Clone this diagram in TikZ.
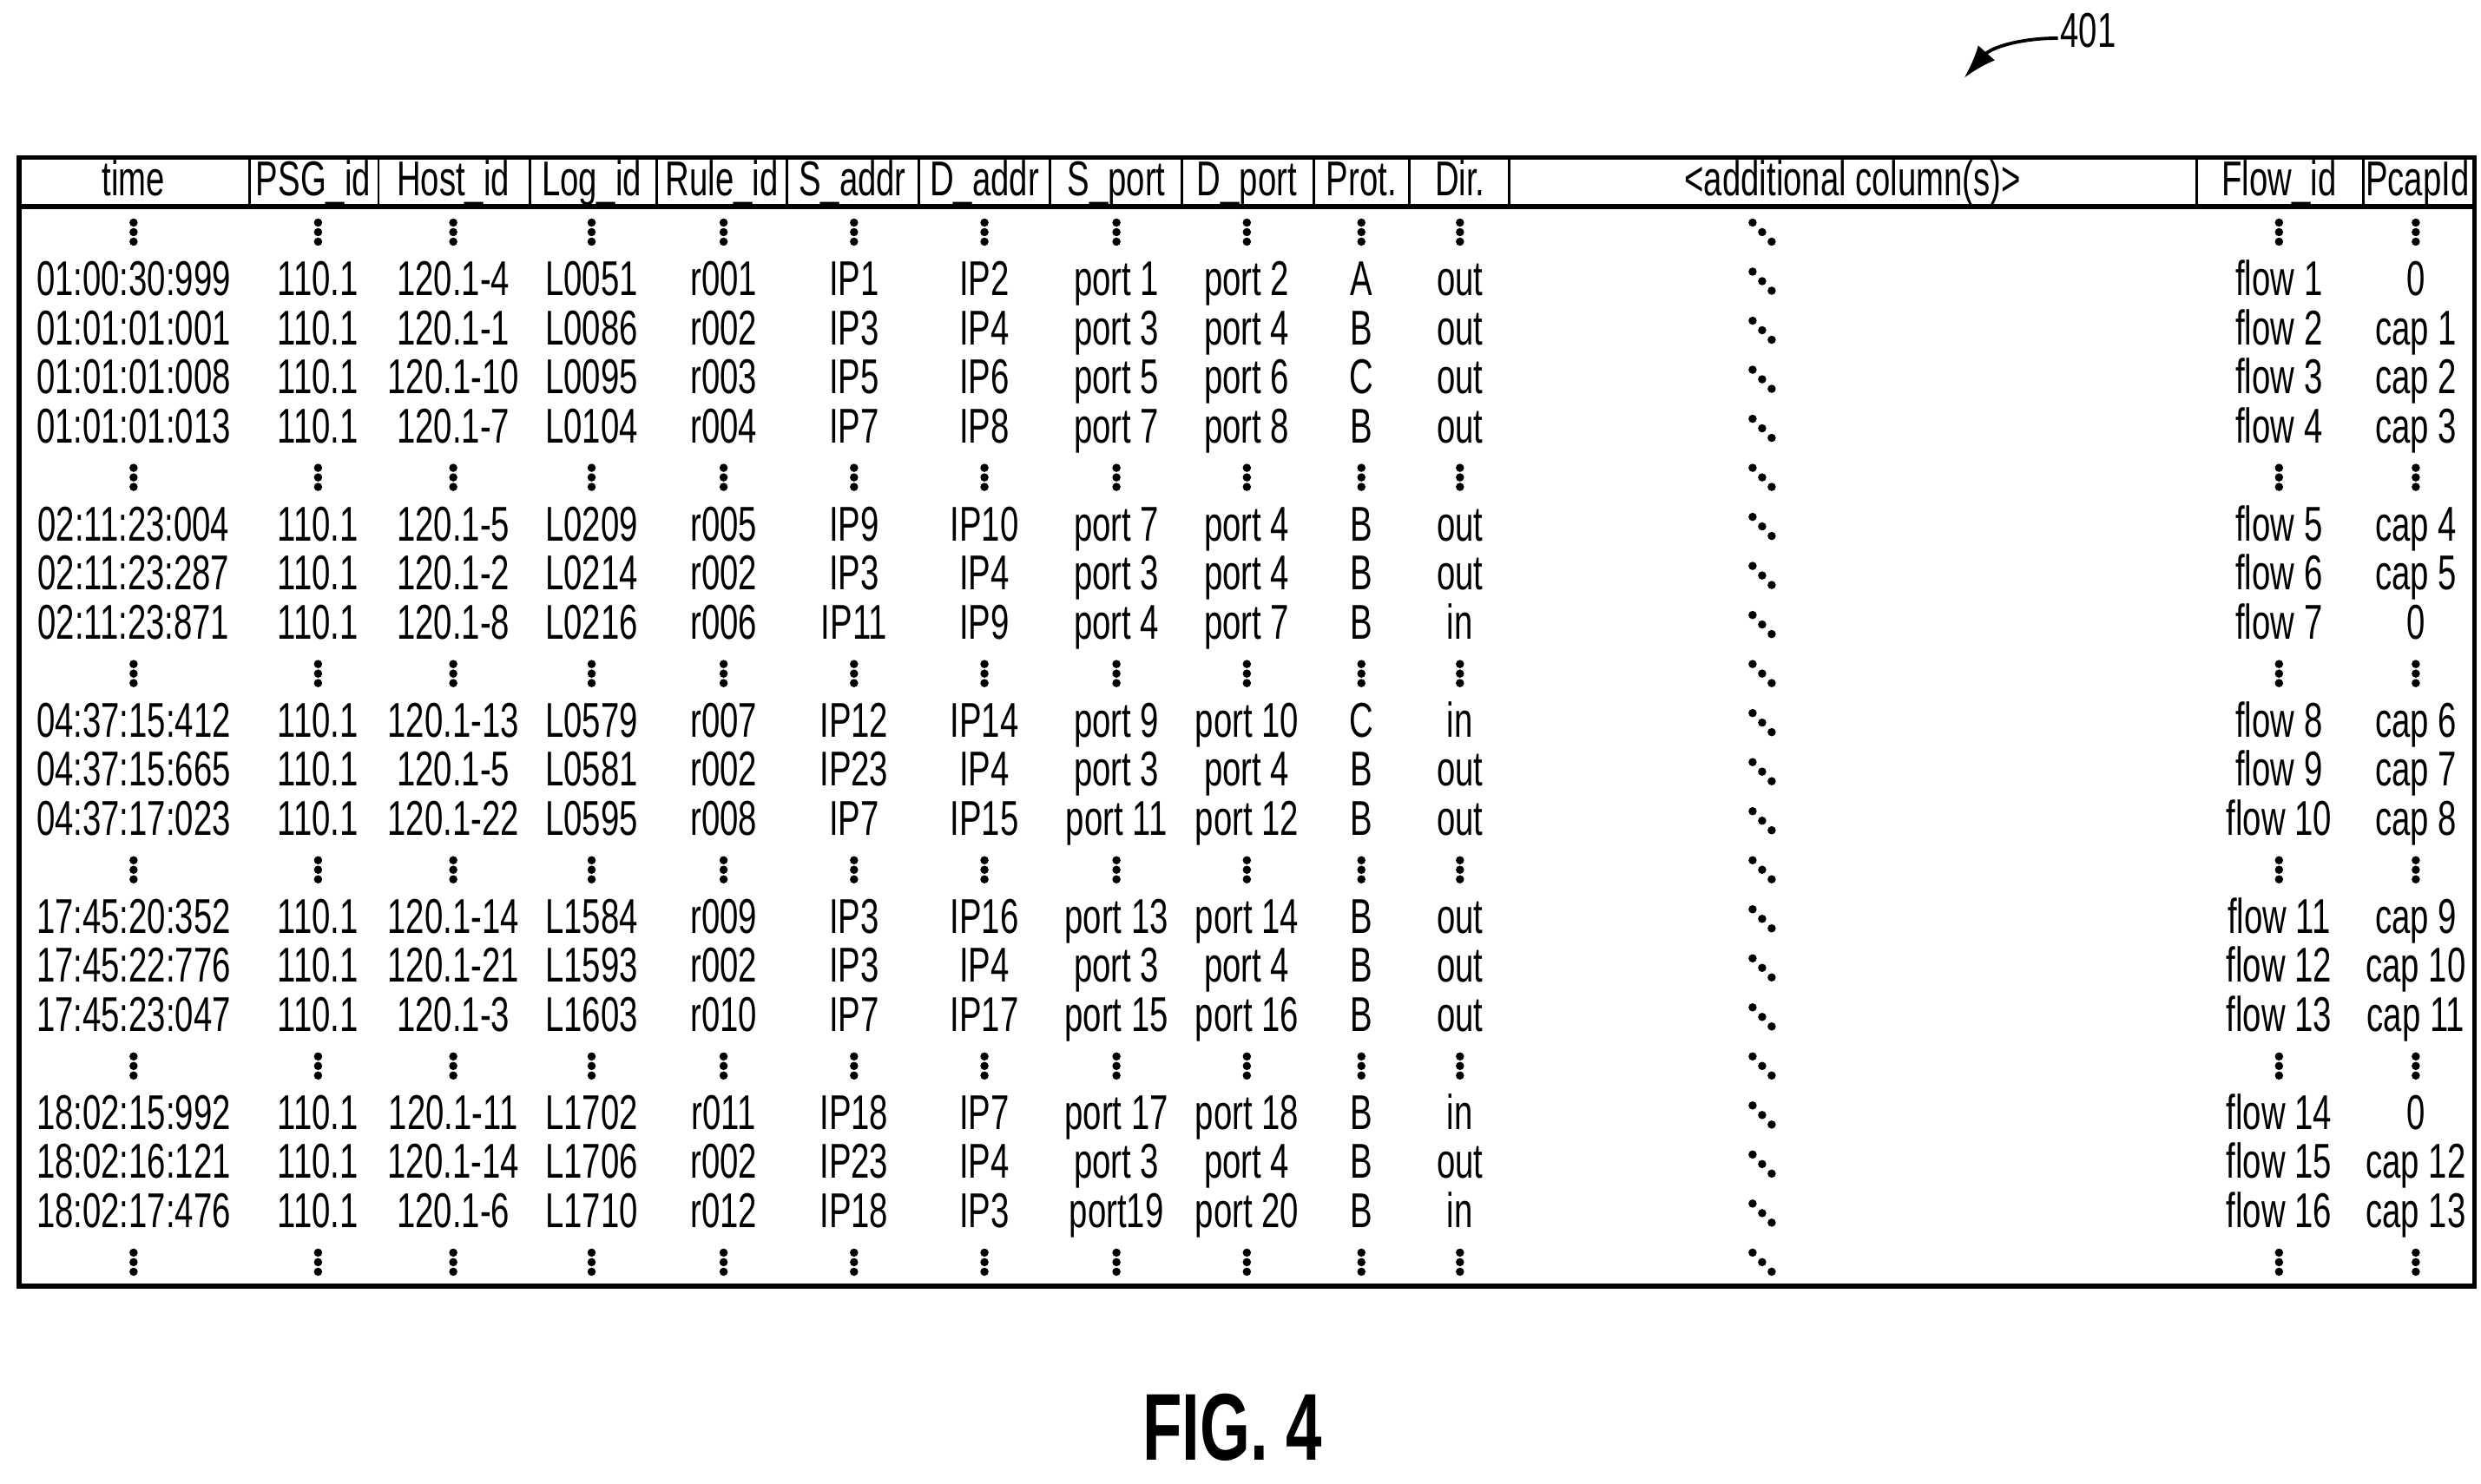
\documentclass[tikz,border=0pt]{standalone}
\usepackage{fontspec}
\setmainfont[FakeStretch=0.68]{Liberation Sans}
\usetikzlibrary{arrows.meta}

\tikzset{
  cell/.style={inner sep=0pt, anchor=base, font=\fontsize{17.5}{18}\selectfont},
  frame/.style={line width=1.7pt},
  sep/.style={line width=0.9pt},
  dotmark/.style={fill=black, draw=none},
}
\newcommand{\vdotsmark}[2]{%
  \foreach \d in {-6,0,6} {\fill[dotmark] (#1,#2+\d) circle (2.6);}}
\newcommand{\ddotsmark}[2]{%
  \foreach \d in {-6,0,6} {\fill[dotmark] (#1+\d,#2+\d) circle (2.6);}}
\def\dotrow{D}

\begin{document}
\begin{tikzpicture}[x=0.02cm,y=-0.02cm]
  \useasboundingbox (0,0) rectangle (1560,933);

  % reference label
  \node[cell] (ref) at (1313,30) {401};
  \coordinate (reftip) at (1235,49);
  \draw[line width=1.2pt,-{Latex[length=12pt,width=8pt]}] (1294,24) .. controls (1270,24) and (1252,30) .. (reftip);

  % table frame and header
  \draw[frame] (12,99) rectangle (1556,809);
  \draw[frame] (12,130) -- (1556,130);
  \foreach \x in {157,238,333,413,495,578,660,743,826,886,949,1381,1486} {
    \draw[sep] (\x,99) -- (\x,130);
  }
  \foreach \h/\x [count=\c] in {time/84, PSG\_id/197, Host\_id/285, Log\_id/372, Rule\_id/454,
      S\_addr/536, D\_addr/619, S\_port/702, D\_port/784, Prot./856, Dir./918,
      {<additional column(s)>}/1165, Flow\_id/1433, PcapId/1520} {
    \node[cell] (h-\c) at (\x,123) {\h};
  }

  % rows (D = continuation dots)
  \foreach \row [count=\i] in {
      {D},
      {01:00:30:999,110.1,120.1-4,L0051,r001,IP1,IP2,port 1,port 2,A,out,flow 1,0},
      {01:01:01:001,110.1,120.1-1,L0086,r002,IP3,IP4,port 3,port 4,B,out,flow 2,cap 1},
      {01:01:01:008,110.1,120.1-10,L0095,r003,IP5,IP6,port 5,port 6,C,out,flow 3,cap 2},
      {01:01:01:013,110.1,120.1-7,L0104,r004,IP7,IP8,port 7,port 8,B,out,flow 4,cap 3},
      {D},
      {02:11:23:004,110.1,120.1-5,L0209,r005,IP9,IP10,port 7,port 4,B,out,flow 5,cap 4},
      {02:11:23:287,110.1,120.1-2,L0214,r002,IP3,IP4,port 3,port 4,B,out,flow 6,cap 5},
      {02:11:23:871,110.1,120.1-8,L0216,r006,IP11,IP9,port 4,port 7,B,in,flow 7,0},
      {D},
      {04:37:15:412,110.1,120.1-13,L0579,r007,IP12,IP14,port 9,port 10,C,in,flow 8,cap 6},
      {04:37:15:665,110.1,120.1-5,L0581,r002,IP23,IP4,port 3,port 4,B,out,flow 9,cap 7},
      {04:37:17:023,110.1,120.1-22,L0595,r008,IP7,IP15,port 11,port 12,B,out,flow 10,cap 8},
      {D},
      {17:45:20:352,110.1,120.1-14,L1584,r009,IP3,IP16,port 13,port 14,B,out,flow 11,cap 9},
      {17:45:22:776,110.1,120.1-21,L1593,r002,IP3,IP4,port 3,port 4,B,out,flow 12,cap 10},
      {17:45:23:047,110.1,120.1-3,L1603,r010,IP7,IP17,port 15,port 16,B,out,flow 13,cap 11},
      {D},
      {18:02:15:992,110.1,120.1-11,L1702,r011,IP18,IP7,port 17,port 18,B,in,flow 14,0},
      {18:02:16:121,110.1,120.1-14,L1706,r002,IP23,IP4,port 3,port 4,B,out,flow 15,cap 12},
      {18:02:17:476,110.1,120.1-6,L1710,r012,IP18,IP3,port19,port 20,B,in,flow 16,cap 13},
      {D}} {
    \pgfmathsetmacro{\y}{146+30.85*(\i-1)}
    \ddotsmark{1108}{\y}
    \foreach \v [count=\c] in \row {
      \pgfmathsetmacro{\x}{{84,200,285,372,455,537,619,702,784,856,918,1433,1519}[\c-1]}
      \ifx\v\dotrow
        \foreach \xx in {84,200,285,372,455,537,619,702,784,856,918,1433,1519} {
          \vdotsmark{\xx}{\y}
        }
      \else
        \node[cell] (c-\i-\c) at (\x,\y+9) {\v};
      \fi
    }
  }

  % figure caption
  \node[font=\bfseries\fontsize{34}{34}\selectfont] (fig) at (775,898) {FIG. 4};
\end{tikzpicture}
\end{document}
